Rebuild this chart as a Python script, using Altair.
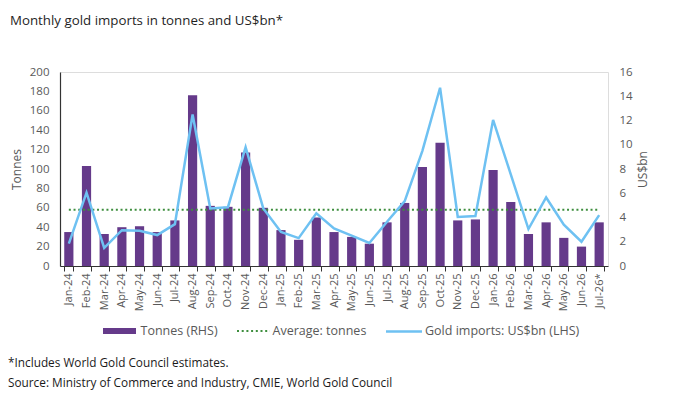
import altair as alt
import pandas as pd

months = ["Jan-24", "Feb-24", "Mar-24", "Apr-24", "May-24", "Jun-24", "Jul-24", "Aug-24",
          "Sep-24", "Oct-24", "Nov-24", "Dec-24", "Jan-25", "Feb-25", "Mar-25", "Apr-25",
          "May-25", "Jun-25", "Jul-25", "Aug-25", "Sep-25", "Oct-25", "Nov-25", "Dec-25",
          "Jan-26", "Feb-26", "Mar-26", "Apr-26", "May-26", "Jun-26", "Jul-26*"]
tonnes = [35, 103, 33, 40, 41, 35, 47, 176, 62, 61, 117, 60,
          37, 27, 50, 35, 30, 23, 45, 65, 102, 127, 47, 48,
          99, 66, 33, 45, 29, 20, 45]
usd_bn = [1.85, 6.05, 1.5, 2.95, 2.9, 2.55, 3.45, 12.5, 4.75, 4.85, 9.8, 4.75,
          2.8, 2.3, 4.35, 3.1, 2.5, 1.9, 3.65, 5.35, 9.5, 14.7, 4.05, 4.12,
          12.05, 7.55, 3.05, 5.65, 3.4, 2.0, 4.2]
AVG_TONNES = 58

tonnes_ticks = [0, 20, 40, 60, 80, 100, 120, 140, 160, 180, 200]
usd_ticks = [0, 2, 4, 6, 8, 10, 12, 14, 16]

BAR = "#653A8A"
LINE = "#6EC1F2"
GREEN = "#3E8E3E"
GREY = "#595959"
FONT = "Open Sans"

df = pd.DataFrame({
    "month": months,
    "tonnes": tonnes,
    "usd": usd_bn,
    "avg": [AVG_TONNES] * len(months),
})

x_enc = alt.X(
    "month:N", sort=months, title=None,
    scale=alt.Scale(paddingInner=0.48, paddingOuter=0.24),
    axis=alt.Axis(labelAngle=270, tickBand="extent", tickSize=5, tickColor="#333333",
                  domainColor="#333333", labelColor=GREY, labelFontSize=11,
                  labelPadding=2, labelFont=FONT, grid=False, labelOverlap=False),
)

base = alt.Chart(df)

bars = base.mark_bar(color=BAR).encode(
    x=x_enc,
    y=alt.Y("tonnes:Q", title="Tonnes",
            scale=alt.Scale(domain=[0, 200], nice=False),
            axis=alt.Axis(values=tonnes_ticks, ticks=False, grid=False,
                          labelOverlap=False,
                          domainColor="#333333", domainWidth=1.2,
                          labelColor=GREY, labelFontSize=11.5, labelPadding=11,
                          labelFont=FONT, titleColor=GREY, titleFontSize=12,
                          titleFontWeight="normal", titleFont=FONT, titlePadding=6)),
)

avg = base.mark_line(color=GREEN, strokeDash=[2, 2.7], strokeWidth=2).encode(
    x=alt.X("month:N", sort=months),
    y=alt.Y("avg:Q", scale=alt.Scale(domain=[0, 200], nice=False), axis=None),
)

line = base.mark_line(color=LINE, strokeWidth=2.5).encode(
    x=alt.X("month:N", sort=months),
    y=alt.Y("usd:Q", title="US$bn",
            scale=alt.Scale(domain=[0, 16], nice=False),
            axis=alt.Axis(orient="right", values=usd_ticks, ticks=False,
                          domain=False, grid=False, labelOverlap=False,
                          labelColor=GREY, labelFontSize=11.5, labelPadding=11,
                          labelFont=FONT, titleColor=GREY, titleFontSize=12,
                          titleAngle=270, titleBaseline="top",
                          titleFontWeight="normal", titleFont=FONT, titlePadding=5)),
)

one = pd.DataFrame({"k": [0]})


def txt(s, x, y, size, color):
    return alt.Chart(one).mark_text(text=s, align="left", baseline="middle",
                                    fontSize=size, color=color, font=FONT).encode(
        x=alt.value(x), y=alt.value(y))


title = txt("Monthly gold imports in tonnes and US$bn*", -50, -51, 13.3, "#1f1f1f")
leg_rect = alt.Chart(one).mark_rect(color=BAR).encode(
    x=alt.value(43), x2=alt.value(76), y=alt.value(256), y2=alt.value(262))
leg_t1 = txt("Tonnes (RHS)", 80.5, 259, 12.5, GREY)
leg_dots = alt.Chart(one).mark_rule(color=GREEN, strokeDash=[2, 2.7], strokeWidth=2).encode(
    x=alt.value(177), x2=alt.value(210), y=alt.value(259))
leg_t2 = txt("Average: tonnes", 212.5, 259, 12.5, GREY)
leg_line = alt.Chart(one).mark_rule(color=LINE, strokeWidth=2.5).encode(
    x=alt.value(326), x2=alt.value(362), y=alt.value(259.5))
leg_t3 = txt("Gold imports: US$bn (LHS)", 365, 259, 12.5, GREY)
foot1 = txt("*Includes World Gold Council estimates.", -52, 291, 11.8, "#1a1a1a")
foot2 = txt("Source: Ministry of Commerce and Industry, CMIE, World Gold Council", -52, 311, 11.8, "#1a1a1a")

chart = alt.layer(
    bars, avg, line, title, leg_rect, leg_t1, leg_dots, leg_t2, leg_line, leg_t3, foot1, foot2
).resolve_scale(y="independent").properties(
    width=548, height=194,
    padding={"left": 52, "top": 64, "right": 84, "bottom": 144},
    autosize=alt.AutoSizeParams(type="none"),
).configure_view(stroke=None).configure(font=FONT, background="white")

chart.save("out.html", embed_options={"renderer": "svg", "actions": False})
